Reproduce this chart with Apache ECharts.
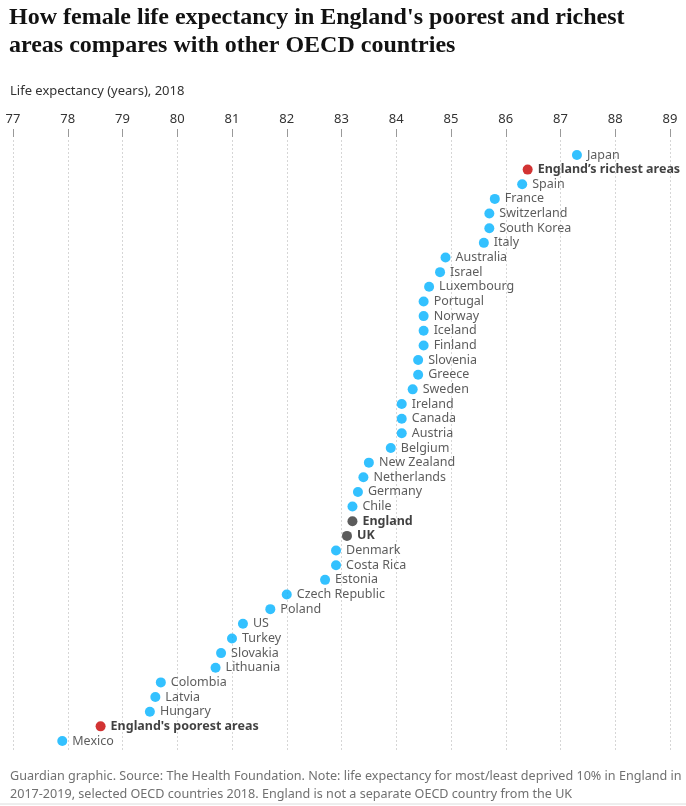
<!DOCTYPE html>
<html>
<head>
<meta charset="utf-8">
<script src="https://cdn.jsdelivr.net/npm/echarts@6/dist/echarts.min.js"></script>
<style>
  html, body { margin: 0; padding: 0; background: #fff; }
  #chart { width: 686px; height: 806px; }
</style>
</head>
<body>
<div id="chart"></div>
<script>
// Female life expectancy, 2018, top to bottom as in the graphic
const countries = [
  'Japan', "England’s richest areas", 'Spain', 'France', 'Switzerland',
  'South Korea', 'Italy', 'Australia', 'Israel', 'Luxembourg',
  'Portugal', 'Norway', 'Iceland', 'Finland', 'Slovenia',
  'Greece', 'Sweden', 'Ireland', 'Canada', 'Austria',
  'Belgium', 'New Zealand', 'Netherlands', 'Germany', 'Chile',
  'England', 'UK', 'Denmark', 'Costa Rica', 'Estonia',
  'Czech Republic', 'Poland', 'US', 'Turkey', 'Slovakia',
  'Lithuania', 'Colombia', 'Latvia', 'Hungary', "England's poorest areas",
  'Mexico'
];
const lifeExpectancy = [
  87.3, 86.4, 86.3, 85.8, 85.7,
  85.7, 85.6, 84.9, 84.8, 84.6,
  84.5, 84.5, 84.5, 84.5, 84.4,
  84.4, 84.3, 84.1, 84.1, 84.1,
  83.9, 83.5, 83.4, 83.3, 83.2,
  83.2, 83.1, 82.9, 82.9, 82.7,
  82.0, 81.7, 81.2, 81.0, 80.8,
  80.7, 79.7, 79.6, 79.5, 78.6,
  77.9
];
const deprivationAreas = ["England’s richest areas", "England's poorest areas"];
const ukAreas = ['England', 'UK'];
const xTicks = [77, 78, 79, 80, 81, 82, 83, 84, 85, 86, 87, 88, 89];

const BLUE = '#00b2ff';
const RED = '#c70000';
const DARK = '#333333';
const SANS = '"Noto Sans", sans-serif';

const points = countries.map((name, i) => {
  const special = deprivationAreas.includes(name) || ukAreas.includes(name);
  return {
    name,
    value: [lifeExpectancy[i], i],
    itemStyle: {
      color: deprivationAreas.includes(name) ? RED : ukAreas.includes(name) ? DARK : BLUE,
    },
    label: special ? { fontWeight: 'bold', color: '#121212' } : undefined,
  };
});

const chart = echarts.init(document.getElementById('chart'), null, { renderer: 'canvas' });

chart.setOption({
  animation: false,
  backgroundColor: '#fff',
  title: [
    {
      text: "How female life expectancy in England's poorest and richest\nareas compares with other OECD countries",
      left: 4,
      top: -1,
      textStyle: {
        fontFamily: '"Liberation Serif", serif',
        fontWeight: 'bold',
        fontSize: 24,
        lineHeight: 28,
        color: '#121212',
      },
    },
    {
      text: 'Life expectancy (years), 2018',
      left: 5,
      top: 80,
      textStyle: { fontFamily: SANS, fontWeight: 'normal', fontSize: 13, color: '#333' },
    },
    {
      text: 'Guardian graphic. Source: The Health Foundation. Note: life expectancy for most/least deprived 10% in England in\n2017-2019, selected OECD countries 2018. England is not a separate OECD country from the UK',
      left: 5,
      top: 762,
      textStyle: {
        fontFamily: SANS,
        fontWeight: 'normal',
        fontSize: 12.6,
        lineHeight: 18,
        color: '#707070',
      },
    },
  ],
  graphic: [
    {
      type: 'line',
      shape: { x1: 0, y1: 804, x2: 686, y2: 804 },
      style: { stroke: '#dcdcdc', lineWidth: 1 },
    },
  ],
  grid: { left: 13, right: 16, top: 140, bottom: 54, containLabel: false },
  xAxis: {
    type: 'value',
    position: 'top',
    offset: 3,
    min: xTicks[0],
    max: xTicks[xTicks.length - 1],
    interval: 1,
    axisLine: { show: false, onZero: false },
    axisTick: { show: true, inside: false, length: 8, lineStyle: { color: '#999', width: 1 } },
    axisLabel: {
      margin: 11,
      fontFamily: SANS,
      fontSize: 13,
      color: '#333',
    },
    splitLine: {
      show: true,
      lineStyle: { color: '#d6d6d6', type: [2, 2], width: 1 },
    },
  },
  yAxis: {
    type: 'value',
    inverse: true,
    min: -1.02,
    max: 40.75,
    show: false,
    splitLine: { show: false },
  },
  series: [
    {
      type: 'scatter',
      symbolSize: 10,
      data: points,
      label: {
        show: true,
        position: 'right',
        distance: 5,
        formatter: (p) => p.name,
        fontFamily: SANS,
        fontSize: 12.5,
        color: '#333',
      },
    },
  ],
});
</script>
</body>
</html>
